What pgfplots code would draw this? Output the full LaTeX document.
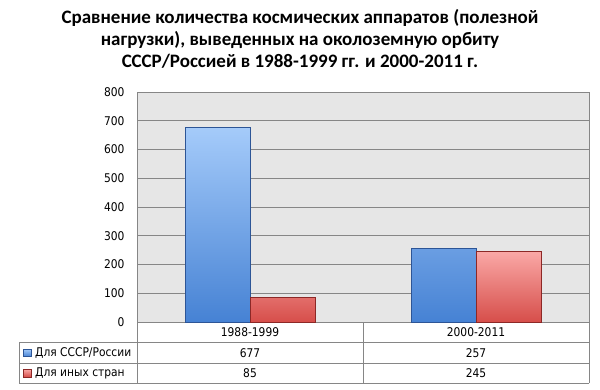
\documentclass[border=0pt]{standalone}
\usepackage{fontspec}
\setmainfont{DejaVu Sans}[FakeStretch=0.89]
\newfontfamily\titlefont{Carlito}
\usepackage{pgfplots}
\pgfplotsset{compat=1.18}
\definecolor{gridgray}{RGB}{134,134,134}
\definecolor{bluetop}{RGB}{165,203,250}
\definecolor{bluebot}{RGB}{70,130,212}
\definecolor{blueedge}{RGB}{45,85,150}
\definecolor{redtop}{RGB}{250,168,166}
\definecolor{redbot}{RGB}{214,78,74}
\definecolor{rededge}{RGB}{140,40,38}
\definecolor{marble}{RGB}{230,230,230}
\begin{document}
\begin{tikzpicture}[x=1pt,y=1pt]
\path[use as bounding box] (0,0) rectangle (600,389);
\node[anchor=north, align=center, inner sep=0pt, font=\titlefont\bfseries\fontsize{19.0}{22.2}\selectfont]
  at (300,380) {Сравнение количества космических аппаратов (полезной\\нагрузки), выведенных на околоземную орбиту\\СССР/Россией в 1988-1999 гг. и 2000-2011 г.};
\begin{axis}[
  at={(137pt,67pt)}, anchor=south west,
  scale only axis, width=452pt, height=230pt,
  xmin=-0.5, xmax=1.5, ymin=0, ymax=800,
  ytick distance=100, xtick=\empty,
  ymajorgrids, grid style={gridgray, line width=0.8pt},
  axis line style={gridgray, line width=0.8pt},
  major tick length=0pt,
  /pgf/number format/assume math mode=true,
  yticklabel style={font=\fontsize{12}{14}\selectfont, xshift=-9pt},
  axis background/.style={fill=marble},
  ybar=0pt, bar width=65pt,
  clip=false,
]
\addplot[draw=blueedge, line width=0.6pt, top color=bluetop, bottom color=bluebot] coordinates {(0,677) (1,257)};
\addplot[draw=rededge, line width=0.6pt, top color=redtop, bottom color=redbot] coordinates {(0,85) (1,245)};
\end{axis}
% data table below the axis
\begin{scope}[gridgray, line width=0.8pt]
\draw (19,46.3) -- (589,46.3);
\draw (19,25.7) -- (589,25.7);
\draw (19,5.7) -- (589,5.7);
\draw (19,5.7) -- (19,46.3);
\draw (137,5.7) -- (137,67);
\draw (363,5.7) -- (363,67);
\draw (589,5.7) -- (589,67);
\end{scope}
\begin{scope}[every node/.style={font=\fontsize{12}{14}\selectfont, inner sep=0pt}]
\node at (250,56.7) {1988-1999};
\node at (476,56.7) {2000-2011};
\node at (250,36) {677};
\node at (476,36) {257};
\node at (250,15.7) {85};
\node at (476,15.7) {245};
\node[anchor=west] at (35,36) {Для СССР/России};
\node[anchor=west] at (35,15.7) {Для иных стран};
\end{scope}
\shade[top color=bluetop, bottom color=bluebot, draw=blueedge, line width=0.4pt] (23,32.5) rectangle (31,40);
\shade[top color=redtop, bottom color=redbot, draw=rededge, line width=0.4pt] (23,12.2) rectangle (31,19.7);
\end{tikzpicture}
\end{document}
